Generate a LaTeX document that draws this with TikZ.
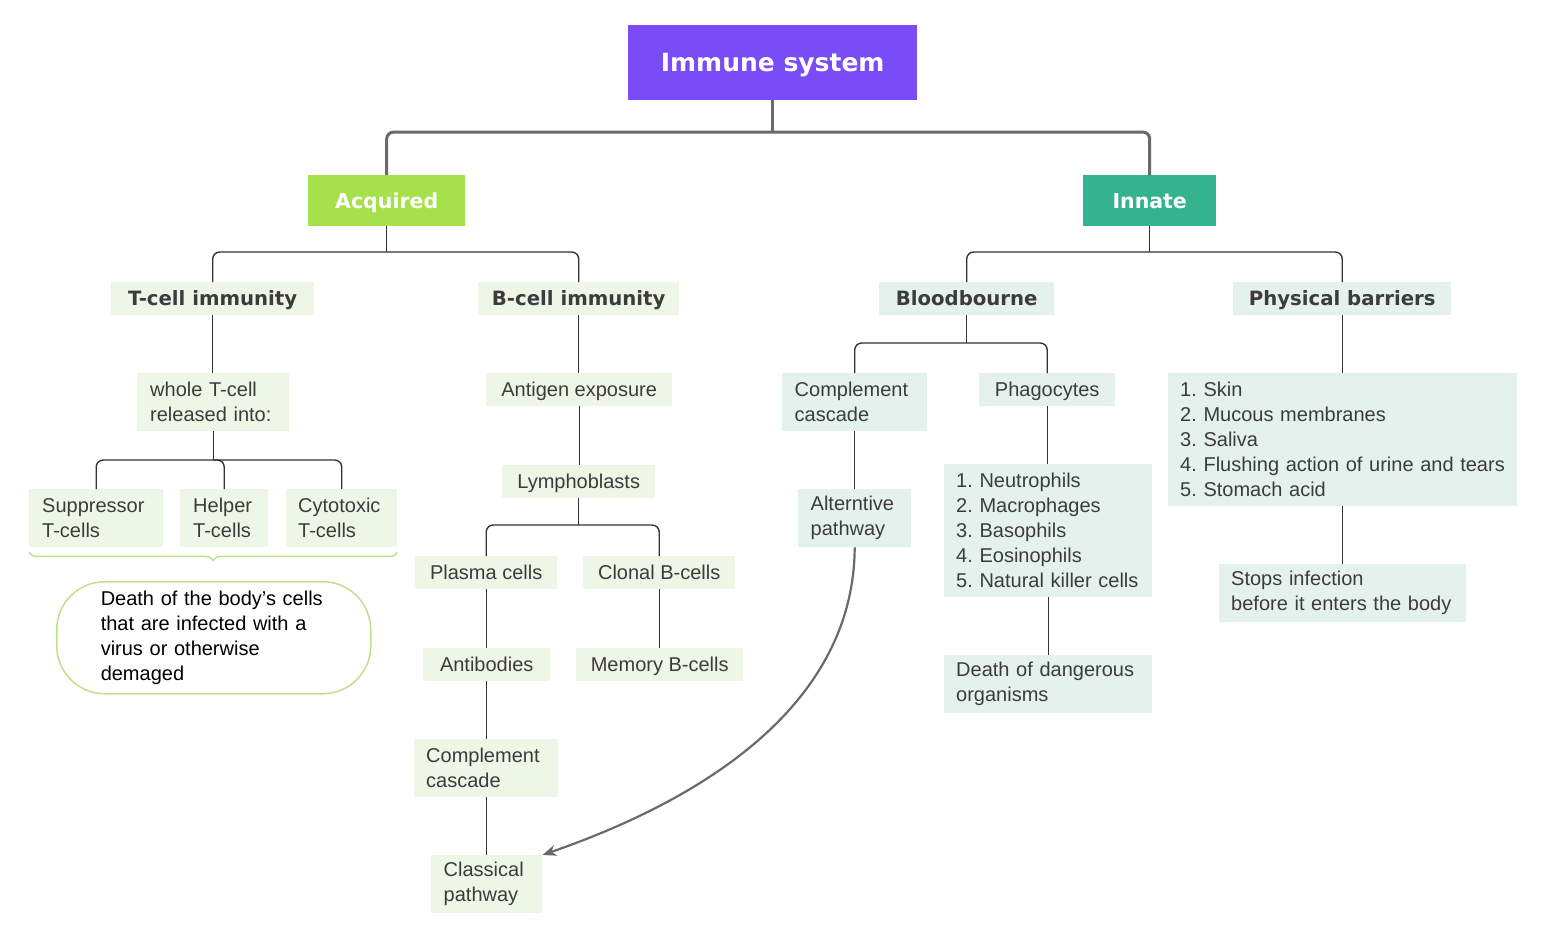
\documentclass[tikz,border=0pt]{standalone}
\usepackage{fontspec}
\setmainfont{Liberation Sans}
\newfontfamily\headfont{DejaVu Sans}
\usetikzlibrary{arrows.meta,decorations.pathreplacing}
\frenchspacing
\definecolor{cpurple}{HTML}{7A4CF8}
\definecolor{clime}{HTML}{A6E04B}
\definecolor{cteal}{HTML}{34B38E}
\definecolor{fgreen}{HTML}{EEF6E7}
\definecolor{fteal}{HTML}{E5F1EC}
\definecolor{tdark}{HTML}{3C3C3C}
\definecolor{cline}{HTML}{333333}
\definecolor{cmain}{HTML}{6A6A6A}
\definecolor{cbrace}{HTML}{C3DE8E}
\tikzset{
  topbox/.style={anchor=north west, inner sep=0pt, text=white, text height=18.2pt, text depth=0pt, font=\headfont\bfseries\fontsize{25}{30}\selectfont},
  midbox/.style={anchor=north west, inner sep=0pt, text=white, text height=15pt, text depth=0pt, font=\headfont\bfseries\fontsize{20.5}{25}\selectfont},
  headbox/.style={anchor=north west, inner sep=0pt, text=tdark, text height=14.4pt, text depth=0pt, font=\headfont\bfseries\fontsize{19.7}{25}\selectfont},
  leafbox/.style={anchor=north west, inner sep=0pt, text=tdark, align=left, font=\fontsize{20}{25}\selectfont},
  oneline/.style={text height=14.3pt, text depth=0pt, align=center},
  mainline/.style={draw=cmain, line width=3pt, rounded corners=7pt},
  subline/.style={draw=cline, line width=1.4pt, rounded corners=7pt},
}
\begin{document}
\begin{tikzpicture}[x=1pt,y=-1pt]
\useasboundingbox (0,0) rectangle (1541,938);
% top level
\node[topbox, fill=cpurple, minimum width=289, minimum height=75] (imm) at (628,25) {Immune system};
\node[midbox, fill=clime, minimum width=157, minimum height=51] (acq) at (308,175) {Acquired};
\node[midbox, fill=cteal, minimum width=133, minimum height=51] (inn) at (1083,175) {Innate};
% headers
\node[headbox, fill=fgreen, minimum width=203, minimum height=33] (tc) at (111,282) {T-cell immunity};
\node[headbox, fill=fgreen, minimum width=201, minimum height=33] (bc) at (478,282) {B-cell immunity};
\node[headbox, fill=fteal, minimum width=175, minimum height=33] (bl) at (879,282) {Bloodbourne};
\node[headbox, fill=fteal, minimum width=218, minimum height=33] (pb) at (1233,282) {Physical barriers};
% T-cell column
\node[leafbox, fill=fgreen, minimum width=152, minimum height=58, text width=126] (wt) at (137,373) {whole T-cell\\released into:};
\node[leafbox, fill=fgreen, minimum width=134, minimum height=58, text width=108] (sup) at (29,489) {Suppressor\\T-cells};
\node[leafbox, fill=fgreen, minimum width=88, minimum height=58, text width=62] (hel) at (180,489) {Helper\\T-cells};
\node[leafbox, fill=fgreen, minimum width=111, minimum height=58, text width=87] (cyt) at (286,489) {Cytotoxic\\T-cells};
\node[anchor=north west, inner sep=0pt, draw=cbrace, line width=1.5pt, rounded corners=48pt, fill=white, minimum width=314, minimum height=112, text width=226, align=left, text=black, font=\fontsize{20}{25}\selectfont] (dea) at (56,581) {Death of the body's cells\\that are infected with a\\virus or otherwise\\demaged};
% B-cell column
\node[leafbox, oneline, fill=fgreen, minimum width=186, minimum height=33] (ant) at (486,373) {Antigen exposure};
\node[leafbox, oneline, fill=fgreen, minimum width=153, minimum height=33] (lym) at (502,465) {Lymphoblasts};
\node[leafbox, oneline, fill=fgreen, minimum width=142, minimum height=33] (pla) at (415,556) {Plasma cells};
\node[leafbox, oneline, fill=fgreen, minimum width=152, minimum height=33] (clo) at (583,556) {Clonal B-cells};
\node[leafbox, oneline, fill=fgreen, minimum width=127, minimum height=33] (abd) at (423,648) {Antibodies};
\node[leafbox, oneline, fill=fgreen, minimum width=167, minimum height=33] (mem) at (576,648) {Memory B-cells};
\node[leafbox, fill=fgreen, minimum width=144, minimum height=58, text width=120] (cc1) at (414,739) {Complement\\cascade};
\node[leafbox, fill=fgreen, minimum width=111, minimum height=58, text width=86] (cla) at (431,855) {Classical\\pathway};
% Bloodbourne column
\node[leafbox, fill=fteal, minimum width=145, minimum height=58, text width=120] (cc2) at (782,373) {Complement\\cascade};
\node[leafbox, oneline, fill=fteal, minimum width=136, minimum height=33] (pha) at (979,373) {Phagocytes};
\node[leafbox, fill=fteal, minimum width=113, minimum height=58, text width=88] (alt) at (798,489) {Alterntive\\pathway};
\node[leafbox, fill=fteal, minimum width=208, minimum height=133, text width=184] (plist) at (944,464) {1. Neutrophils\\2. Macrophages\\3. Basophils\\4. Eosinophils\\5. Natural killer cells};
\node[leafbox, fill=fteal, minimum width=208, minimum height=58, text width=184] (ddo) at (944,655) {Death of dangerous\\organisms};
% Physical barriers column
\node[leafbox, fill=fteal, minimum width=349, minimum height=133, text width=325] (blist) at (1168,373) {1. Skin\\2. Mucous membranes\\3. Saliva\\4. Flushing action of urine and tears\\5. Stomach acid};
\node[leafbox, fill=fteal, minimum width=247, minimum height=58, text width=223] (sto) at (1219,564) {Stops infection\\before it enters the body};
% connectors
\coordinate (j0) at (773,132);
\draw[mainline] (imm.south) -- (imm.south |- j0);
\draw[mainline] (acq.north) |- (j0) -| (inn.north);
\coordinate (j1) at (387,252);
\draw[subline] (acq.south) -- (acq.south |- j1);
\draw[subline] (tc.north) |- (j1) -| (bc.north);
\coordinate (j2) at (1149,252);
\draw[subline] (inn.south) -- (inn.south |- j2);
\draw[subline] (bl.north) |- (j2) -| (pb.north);
\draw[subline] (tc.south) -- (tc.south |- wt.north);
\coordinate (j3) at (213,460);
\draw[subline] (wt.south) -- (wt.south |- j3);
\draw[subline] (sup.north) |- (j3) -| (cyt.north);
\draw[subline] (hel.north) |- (j3);
\draw[subline] (bc.south) -- (bc.south |- ant.north);
\draw[subline] (ant.south) -- (ant.south |- lym.north);
\coordinate (j4) at (579,525);
\draw[subline] (lym.south) -- (lym.south |- j4);
\draw[subline] (pla.north) |- (j4) -| (clo.north);
\draw[subline] (pla.south) -- (pla.south |- abd.north);
\draw[subline] (clo.south) -- (clo.south |- mem.north);
\draw[subline] (abd.south) -- (abd.south |- cc1.north);
\draw[subline] (cc1.south) -- (cc1.south |- cla.north);
\coordinate (j5) at (966,343);
\draw[subline] (bl.south) -- (bl.south |- j5);
\draw[subline] (cc2.north) |- (j5) -| (pha.north);
\draw[subline] (cc2.south) -- (cc2.south |- alt.north);
\draw[subline] (pha.south) -- (pha.south |- plist.north);
\draw[subline] (plist.south) -- (ddo.north);
\draw[subline] (pb.south) -- (pb.south |- blist.north);
\draw[subline] (blist.south) -- (blist.south |- sto.north);
% brace
\coordinate (b1) at ([yshift=-5pt]sup.south west);
\coordinate (b2) at ([yshift=-5pt]cyt.south east);
\draw[draw=cbrace, line width=1.5pt, decorate, decoration={brace, mirror, amplitude=8pt}] (b1) -- (b2);
% curved arrow
\draw[draw=cmain, line width=2.2pt, -{Stealth[length=14pt,width=11pt]}] (alt.south) .. controls (854,690) and (730,790) .. (cla.north east);
\end{tikzpicture}
\end{document}
